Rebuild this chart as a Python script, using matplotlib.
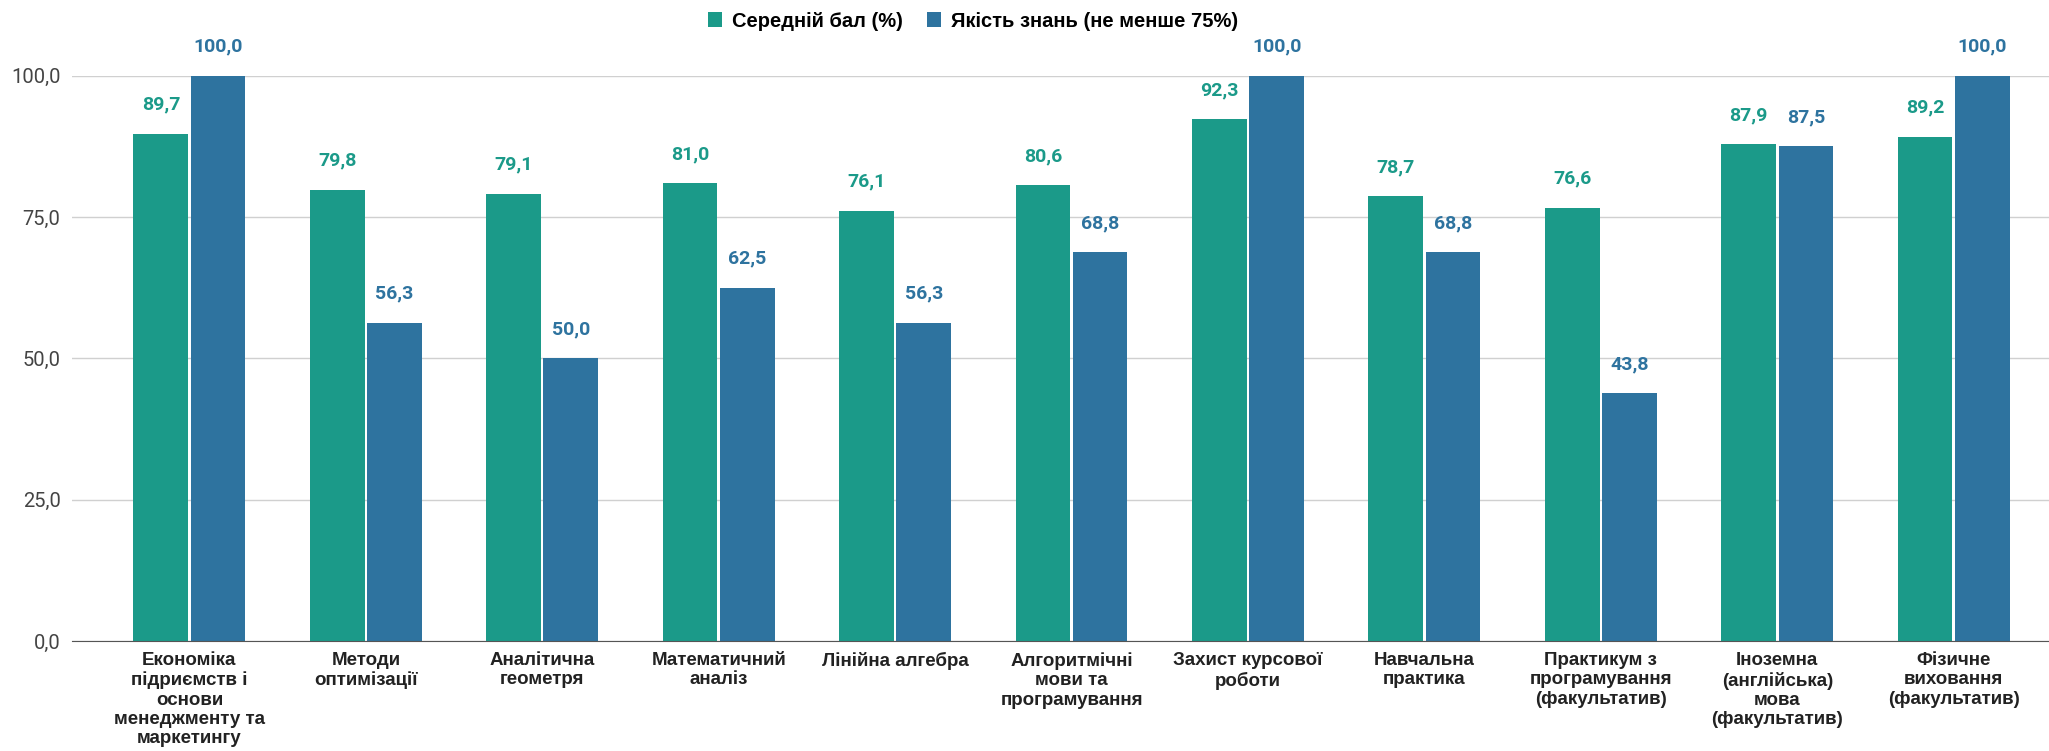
import numpy as np
from matplotlib import pyplot as plt
from matplotlib.ticker import FuncFormatter

categories = [
    "Економіка\nпідриємств і\nоснови\nменеджменту та\nмаркетингу",
    "Методи\nоптимізації",
    "Аналітична\nгеометря",
    "Математичний\nаналіз",
    "Лінійна алгебра",
    "Алгоритмічні\nмови та\nпрограмування",
    "Захист курсової\nроботи",
    "Навчальна\nпрактика",
    "Практикум з\nпрограмування\n(факультатив)",
    "Іноземна\n(англійська)\nмова\n(факультатив)",
    "Фізичне\nвиховання\n(факультатив)",
]
avg_score = [89.7, 79.8, 79.1, 81.0, 76.1, 80.6, 92.3, 78.7, 76.6, 87.9, 89.2]
quality = [100.0, 56.3, 50.0, 62.5, 56.3, 68.8, 100.0, 68.8, 43.8, 87.5, 100.0]
series_names = ["Середній бал (%)", "Якість знань (не менше 75%)"]
colors = ["#1b9a89", "#2e739f"]

fig = plt.figure(figsize=(20.49, 7.51), dpi=100)
ax = fig.add_axes([0.035, 0.1465, 0.965, 0.7525])

x = np.arange(len(categories))
w = 0.31
for i, (vals, c, name) in enumerate(zip([avg_score, quality], colors, series_names)):
    off = (i - 0.5) * (w + 0.014)
    bars = ax.bar(x + off, vals, w, color=c, label=name, zorder=3)
    for b, v in zip(bars, vals):
        ax.annotate(f"{v:.1f}".replace(".", ","), (b.get_x() + b.get_width() / 2, v),
                    xytext=(0, 21), textcoords="offset points", ha="center", va="center",
                    fontsize=14, fontweight="bold", color=c, family="Roboto",
                    annotation_clip=False)

ax.set_ylim(0, 100)
ax.set_xlim(-0.667, 10.54)
ax.set_yticks([0, 25, 50, 75, 100])
ax.yaxis.set_major_formatter(FuncFormatter(lambda v, p: f"{v:.1f}".replace(".", ",")))
ax.grid(axis="y", color="#d0d0d0", linewidth=1, zorder=0)
ax.set_axisbelow(True)
for s in ["top", "right", "left"]:
    ax.spines[s].set_visible(False)
ax.spines["bottom"].set_color("#555555")
ax.spines["bottom"].set_zorder(4)
ax.tick_params(axis="both", length=0)
ax.tick_params(axis="y", labelsize=14.5, labelcolor="#444444", pad=8)
for t in ax.get_yticklabels():
    t.set_family("Roboto")
ax.set_xticks(x)
ax.set_xticklabels(categories, fontsize=13.5, fontweight="bold", family="Liberation Sans",
                   linespacing=1.18, va="top", color="#222222")
ax.tick_params(axis="x", pad=8)

fig.legend(loc="center", bbox_to_anchor=(0.475, 0.972), ncol=2, frameon=False,
           prop={"family": "Liberation Sans", "weight": "bold", "size": 14.5},
           handlelength=0.7, handleheight=0.7, handletextpad=0.5, columnspacing=1.2)

fig.savefig("out.png", dpi=100)
